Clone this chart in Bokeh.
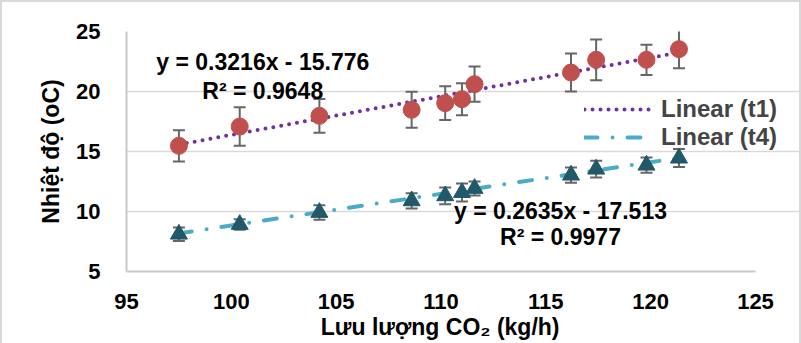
import numpy as np
from bokeh.plotting import figure
from bokeh.models import Range1d, Label, FixedTicker, Legend, Title
from bokeh.embed import file_html
from bokeh.resources import INLINE

# ---- data ----
flow = [97.5, 100.4, 104.2, 108.6, 110.2, 111.0, 111.6, 116.2, 117.4, 119.8, 121.35]
t1 = [15.47, 17.08, 17.97, 18.47, 19.03, 19.36, 20.61, 21.58, 22.64, 22.64, 23.53]
t1_err = [1.3, 1.6, 1.4, 1.5, 1.4, 1.33, 1.47, 1.58, 1.7, 1.26, 1.6]
t4 = [8.11, 8.92, 9.92, 10.89, 11.31, 11.58, 11.92, 13.03, 13.53, 13.86, 14.45]
t4_err = [0.56, 0.44, 0.6, 0.63, 0.7, 0.75, 0.58, 0.64, 0.7, 0.64, 0.75]
fit_t1 = (0.3216, -15.776, 0.9648)
fit_t4 = (0.2635, -17.513, 0.9977)
x_ticks = [95, 100, 105, 110, 115, 120, 125]
y_ticks = [5, 10, 15, 20, 25]
x_title = "Lưu lượng CO₂ (kg/h)"
y_title = "Nhiệt độ (oC)"

FONT = "Liberation Sans"
X0, X1 = 95, 125
# frame extends right of the last tick so the legend text (which overhangs) is not clipped
X_VIEW_END = X1 + 44 / 20.97

p = figure(width=801, height=343, output_backend="svg", toolbar_location=None,
           x_range=Range1d(X0, X_VIEW_END), y_range=Range1d(5, 25),
           min_border_left=124, min_border_right=4, min_border_top=29, min_border_bottom=74)
p.styles = {"border-top": "2px solid #d9d9d9", "border-left": "2px solid #d9d9d9",
            "border-right": "2px solid #d9d9d9", "box-sizing": "border-box"}
p.outline_line_color = None
p.background_fill_color = "white"
p.border_fill_color = "white"

p.xgrid.grid_line_color = None
p.ygrid.grid_line_color = "#d9d9d9"
p.ygrid.grid_line_width = 1.5
p.ygrid.bounds = (X0, X1)

p.xaxis.ticker = FixedTicker(ticks=x_ticks)
p.yaxis.ticker = FixedTicker(ticks=y_ticks)
p.xaxis.bounds = (X0, X1)
for ax in (p.xaxis, p.yaxis):
    ax.axis_line_color = "#c8c8c8"
    ax.axis_line_width = 2
    ax.major_tick_line_color = None
    ax.minor_tick_line_color = None
    ax.major_label_text_font = FONT
    ax.major_label_text_font_style = "bold"
    ax.major_label_text_font_size = "22px"
    ax.major_label_text_color = "black"
    ax.axis_label_text_font = FONT
    ax.axis_label_text_font_style = "bold"
    ax.axis_label_text_font_size = "23px"
    ax.axis_label_text_color = "black"
p.yaxis.axis_label = y_title
p.xaxis.major_label_standoff = 16
p.yaxis.major_label_standoff = 20
p.yaxis.axis_label_standoff = 9

# x-axis title, centred under the 95-125 span (frame is wider for the legend)
xt = Title(text=x_title, align="right", offset=240, text_font=FONT, text_font_style="bold",
           text_font_size="23px", text_color="black", standoff=0)
p.add_layout(xt, "below")

# trend lines
xs = [min(flow), max(flow)]
l1 = p.line(xs, [fit_t1[0] * x + fit_t1[1] for x in xs], line_color="#7030a0", line_width=4,
            line_dash="0 8", line_cap="round")
l4 = p.line(xs, [fit_t4[0] * x + fit_t4[1] for x in xs], line_color="#4bacc6", line_width=4,
            line_dash="13 15 0 15", line_cap="round")

# error bars
ebc = "#666666"
for ys, es in ((t1, t1_err), (t4, t4_err)):
    lo = [y - e for y, e in zip(ys, es)]
    hi = [y + e for y, e in zip(ys, es)]
    p.segment(flow, lo, flow, hi, line_color=ebc, line_width=2)
    p.scatter(flow, lo, marker="dash", size=12, line_color=ebc, line_width=2)
    p.scatter(flow, hi, marker="dash", size=12, line_color=ebc, line_width=2)

p.scatter(flow, t1, marker="circle", size=17, fill_color="#c0504d", line_color="#c0504d")
p.scatter(flow, t4, marker="triangle", size=17, fill_color="#215968", line_color="#215968")

legend = Legend(items=[("Linear (t1)", [l1]), ("Linear (t4)", [l4])], location=(458, 120))
legend.label_text_font = FONT
legend.label_text_font_style = "bold"
legend.label_text_font_size = "24px"
legend.glyph_width = 68
legend.glyph_height = 22
legend.label_height = 22
legend.label_standoff = 9
legend.spacing = 0
legend.padding = 0
legend.margin = 0
legend.border_line_color = None
legend.background_fill_alpha = 0
p.add_layout(legend)

def eq_label(x, y, text):
    p.add_layout(Label(x=x, y=y, text=text, text_font=FONT, text_font_style="bold",
                       text_font_size="23px", text_align="center", text_baseline="middle",
                       text_color="black"))

eq_label(101.5, 22.42, f"y = {fit_t1[0]}x - {abs(fit_t1[1])}")
eq_label(101.5, 20.02, f"R² = {fit_t1[2]}")
eq_label(115.7, 10.08, f"y = {fit_t4[0]}x - {abs(fit_t4[1])}")
eq_label(115.7, 7.88, f"R² = {fit_t4[2]}")

open("out.html", "w").write(file_html(p, INLINE))
